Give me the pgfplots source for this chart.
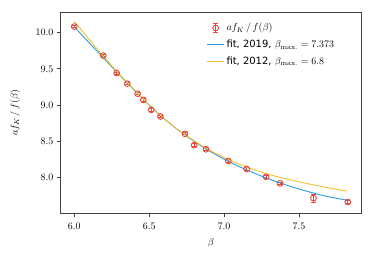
\documentclass[border=0pt]{standalone}
\usepackage{fontspec}
\newfontfamily\dejavu{DejaVu Sans}
\usepackage{pgfplots}
\usepackage{pgfplotstable}
\pgfplotsset{compat=1.18}
\definecolor{myred}{HTML}{E8473C}
\definecolor{myblue}{HTML}{2B9AD8}
\definecolor{myyellow}{HTML}{F2C132}
\definecolor{spine}{HTML}{404040}

\pgfplotstableread{
x y ey
6.000 10.083 0.012
6.194 9.683 0.012
6.283 9.442 0.012
6.354 9.296 0.012
6.423 9.158 0.015
6.461 9.072 0.015
6.514 8.935 0.015
6.575 8.844 0.015
6.739 8.605 0.015
6.800 8.448 0.018
6.879 8.392 0.018
7.028 8.230 0.015
7.150 8.120 0.015
7.280 8.012 0.018
7.373 7.922 0.015
7.596 7.718 0.055
7.825 7.665 0.020
}\datatab

\pgfplotstableread{
x y
6.00 10.080
6.10 9.859
6.20 9.640
6.30 9.423
6.40 9.207
6.50 9.000
6.60 8.812
6.70 8.647
6.80 8.501
6.90 8.371
7.00 8.256
7.10 8.154
7.20 8.063
7.30 7.982
7.40 7.909
7.50 7.844
7.60 7.786
7.70 7.736
7.82 7.690
}\fitA

\pgfplotstableread{
x y
6.00 10.157
6.10 9.905
6.20 9.660
6.30 9.430
6.40 9.212
6.50 9.004
6.60 8.815
6.70 8.650
6.80 8.508
6.90 8.384
7.00 8.278
7.10 8.187
7.20 8.110
7.30 8.044
7.40 7.990
7.50 7.943
7.60 7.899
7.70 7.858
7.82 7.815
}\fitB

\begin{document}
\begin{tikzpicture}
\useasboundingbox (0,0) rectangle (374bp,262bp);
\begin{axis}[
  at={(60.3bp,48.7bp)}, anchor=south west,
  scale only axis, width=301.4bp, height=201bp,
  xmin=5.907, xmax=7.918, ymin=7.509, ymax=10.28,
  xtick={6.0,6.5,7.0,7.5}, ytick={8.0,8.5,9.0,9.5,10.0},
  /pgf/number format/.cd, fixed, fixed zerofill, precision=1, /pgfplots/.cd,
  tick align=outside, tick pos=left,
  major tick length=3.5bp,
  tick style={spine, line width=0.8bp},
  axis line style={spine, line width=0.8bp},
  ticklabel style={font=\fontsize{10}{12}\selectfont},
  xticklabel style={yshift=-3bp},
  xlabel={$\beta$}, ylabel={$af_K\,/\,f(\beta)$},
  label style={font=\fontsize{10}{12}\selectfont},
  xlabel style={at={(axis description cs:0.5,-0.149)}, anchor=center},
  ylabel style={at={(axis description cs:-0.150,0.5)}, anchor=center},
  legend style={draw=none, fill=none, at={(0.475,0.965)}, anchor=north west,
    font=\fontsize{10}{12}\selectfont, row sep=3.5bp},
  legend cell align=left,
]
\addplot[myred, line width=0.9bp, mark=o, mark size=2.9bp, only marks,
  legend image code/.code={%
    \draw[myred, line width=0.9bp] (0.3cm,-4.5bp) -- (0.3cm,4.5bp);
    \draw[myred, line width=0.9bp] (0.3cm-2.2bp,4.5bp) -- (0.3cm+2.2bp,4.5bp)
      (0.3cm-2.2bp,-4.5bp) -- (0.3cm+2.2bp,-4.5bp);
    \draw[myred, line width=0.9bp] (0.3cm,0cm) circle[radius=2.9bp];},
  error bars/.cd, y dir=both, y explicit,
  error bar style={myred, line width=0.9bp},
  error mark options={myred, rotate=90, mark size=2.2bp, line width=0.9bp}]
  table[x=x, y=y, y error=ey] {\datatab};
\addlegendentry{$af_K\,/\,f(\beta)$}
\addplot[myblue, line width=0.9bp, smooth] table[x=x,y=y] {\fitA};
\addlegendentry{{\dejavu fit, 2019,} $\beta_{\mathrm{max.}} = 7.373$}
\addplot[myyellow, line width=0.9bp, smooth] table[x=x,y=y] {\fitB};
\addlegendentry{{\dejavu fit, 2012,} $\beta_{\mathrm{max.}} = 6.8$}
\end{axis}
\end{tikzpicture}
\end{document}
